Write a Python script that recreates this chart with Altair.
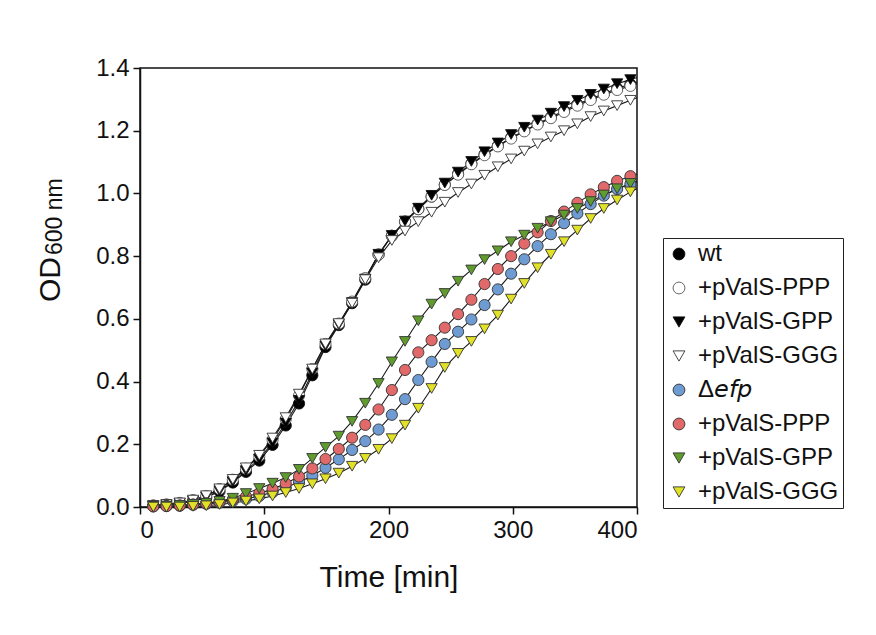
import altair as alt
import pandas as pd

# Sampling times (min)
times = [10.7, 21.3, 32.0, 42.7, 53.3, 64.0, 74.7, 85.3, 96.0, 106.7, 117.3, 128.0,
         138.7, 149.3, 160.0, 170.7, 181.3, 192.0, 202.7, 213.3, 224.0, 234.7, 245.3,
         256.0, 266.7, 277.3, 288.0, 298.7, 309.3, 320.0, 330.7, 341.3, 352.0, 362.7,
         373.3, 384.0, 394.7]

wt = [0.004, 0.007, 0.011, 0.018, 0.030, 0.050, 0.078, 0.112, 0.148, 0.198, 0.260, 0.330,
      0.420, 0.510, 0.580, 0.650, 0.725, 0.805, 0.865, 0.910, 0.950, 0.990, 1.028, 1.062,
      1.095, 1.125, 1.152, 1.178, 1.200, 1.222, 1.243, 1.264, 1.284, 1.302, 1.318, 1.335, 1.348]
wt_ppp = [0.005, 0.008, 0.013, 0.022, 0.035, 0.057, 0.087, 0.122, 0.162, 0.215, 0.280, 0.355,
          0.440, 0.520, 0.585, 0.655, 0.730, 0.805, 0.865, 0.910, 0.950, 0.990, 1.027, 1.060,
          1.093, 1.122, 1.150, 1.175, 1.198, 1.220, 1.240, 1.260, 1.280, 1.298, 1.315, 1.330, 1.343]
wt_gpp = [0.004, 0.007, 0.012, 0.019, 0.032, 0.052, 0.081, 0.116, 0.153, 0.205, 0.268, 0.340,
          0.428, 0.514, 0.582, 0.652, 0.727, 0.806, 0.866, 0.912, 0.953, 0.994, 1.033, 1.068,
          1.102, 1.133, 1.161, 1.188, 1.211, 1.234, 1.256, 1.277, 1.297, 1.316, 1.333, 1.350, 1.363]
wt_ggg = [0.005, 0.008, 0.013, 0.022, 0.036, 0.058, 0.088, 0.125, 0.165, 0.220, 0.285, 0.360,
          0.440, 0.520, 0.585, 0.650, 0.725, 0.795, 0.850, 0.880, 0.910, 0.940, 0.972, 1.003,
          1.030, 1.058, 1.085, 1.110, 1.135, 1.158, 1.180, 1.200, 1.222, 1.245, 1.263, 1.280, 1.297]
efp = [0.002, 0.003, 0.004, 0.007, 0.010, 0.014, 0.019, 0.026, 0.035, 0.047, 0.062, 0.080,
       0.100, 0.125, 0.152, 0.182, 0.210, 0.247, 0.294, 0.344, 0.405, 0.463, 0.520, 0.559,
       0.598, 0.644, 0.694, 0.744, 0.790, 0.832, 0.870, 0.905, 0.936, 0.966, 0.993, 1.014, 1.030]
efp_ppp = [0.002, 0.003, 0.005, 0.008, 0.012, 0.017, 0.024, 0.033, 0.044, 0.057, 0.075, 0.097,
           0.123, 0.153, 0.185, 0.221, 0.262, 0.311, 0.373, 0.437, 0.493, 0.532, 0.572, 0.615,
           0.661, 0.711, 0.759, 0.800, 0.840, 0.876, 0.912, 0.942, 0.970, 0.997, 1.020, 1.040, 1.055]
efp_gpp = [0.002, 0.003, 0.005, 0.008, 0.012, 0.018, 0.028, 0.043, 0.059, 0.076, 0.094, 0.120,
           0.155, 0.190, 0.226, 0.273, 0.331, 0.394, 0.463, 0.528, 0.594, 0.647, 0.681, 0.720,
           0.756, 0.789, 0.817, 0.846, 0.867, 0.889, 0.910, 0.931, 0.952, 0.974, 0.995, 1.015, 1.032]
efp_ggg = [0.000, 0.000, 0.000, 0.002, 0.004, 0.008, 0.013, 0.019, 0.026, 0.035, 0.046, 0.059,
           0.074, 0.090, 0.108, 0.130, 0.155, 0.184, 0.218, 0.261, 0.315, 0.378, 0.445, 0.490,
           0.528, 0.568, 0.612, 0.663, 0.713, 0.763, 0.806, 0.846, 0.883, 0.920, 0.952, 0.979, 1.005]

# Where each fitted line meets the right axis (t = 400)
line_end_t = 400
line_end = [1.355, 1.350, 1.370, 1.305, 1.036, 1.062, 1.040, 1.015]

labels = ["wt", "+pValS-PPP", "+pValS-GPP", "+pValS-GGG",
          "Δ𝘦𝘧𝘱", "+pValS-PPP\u200b", "+pValS-GPP\u200b", "+pValS-GGG\u200b"]
series_values = [wt, wt_ppp, wt_gpp, wt_ggg, efp, efp_ppp, efp_gpp, efp_ggg]
fills = ["#000000", "#ffffff", "#000000", "#ffffff", "#6e9bd2", "#e16969", "#5f9b2d", "#e1e128"]
strokes = ["#111111", "#555555", "#111111", "#333333", "#333333", "#333333", "#333333", "#333333"]
shapes = ["circle", "circle", "triangle-down", "triangle-down",
          "circle", "circle", "triangle-down", "triangle-down"]

pt_rows, line_rows = [], []
for i, (lab, vals) in enumerate(zip(labels, series_values)):
    for t, v in zip(times, vals):
        pt_rows.append({"series": lab, "t": t, "od": v, "z": i})
        line_rows.append({"series": lab, "t": t, "od": v})
    line_rows.append({"series": lab, "t": line_end_t, "od": line_end[i]})
pt_df = pd.DataFrame(pt_rows)
line_df = pd.DataFrame(line_rows)

FONT = "Liberation Sans"

x_enc = alt.X("t:Q", scale=alt.Scale(domain=[0, 400], nice=False, zero=False),
              axis=alt.Axis(values=[0, 100, 200, 300, 400], title="Time [min]",
                            titleFontSize=30, titleFontWeight="normal", titlePadding=20,
                            titleFont=FONT, titleColor="#111"))
y_enc = alt.Y("od:Q", scale=alt.Scale(domain=[0, 1.4], nice=False),
              axis=alt.Axis(values=[0, 0.2, 0.4, 0.6, 0.8, 1.0, 1.2, 1.4], format=".1f",
                            title=None))

leg = alt.Legend(title=None, orient="none", legendX=523, legendY=170,
                 labelFontSize=24, labelFont=FONT, labelColor="#111",
                 symbolSize=140, symbolStrokeWidth=0.9,
                 rowPadding=10, labelOffset=7, padding=4,
                 strokeColor="#222", labelLimit=300)

lines = alt.Chart(line_df).mark_line(color="#1a1a1a", strokeWidth=1.1).encode(
    x=x_enc, y=y_enc, detail="series:N", order="t:Q")

points = alt.Chart(pt_df).mark_point(filled=True, size=125, strokeWidth=0.9,
                                     opacity=1).encode(
    x=x_enc, y=y_enc,
    fill=alt.Fill("series:N", scale=alt.Scale(domain=labels, range=fills),
                  sort=labels, legend=leg),
    shape=alt.Shape("series:N", scale=alt.Scale(domain=labels, range=shapes),
                    sort=labels, legend=leg),
    stroke=alt.Stroke("series:N", scale=alt.Scale(domain=labels, range=strokes),
                      sort=labels, legend=leg),
    order=alt.Order("z:Q"))

title_od = alt.Chart(pd.DataFrame({"s": ["OD"]})).mark_text(
    angle=270, align="left", baseline="alphabetic", fontSize=30, font=FONT, color="#111"
).encode(text="s:N", x=alt.value(-80), y=alt.value(234))
title_sub = alt.Chart(pd.DataFrame({"s": ["600 nm"]})).mark_text(
    angle=270, align="left", baseline="alphabetic", fontSize=23, font=FONT, color="#111"
).encode(text="s:N", x=alt.value(-78), y=alt.value(187))

chart = alt.layer(lines, points, title_od, title_sub).properties(
    width=497, height=439,
    autosize=alt.AutoSizeParams(type="none"),
    padding={"left": 132, "top": 60, "right": 228, "bottom": 100},
    background="white",
).configure_view(stroke="#111", strokeWidth=1.5).configure_axis(
    domainColor="#111", domainWidth=1.5, tickColor="#111", tickWidth=1.5, tickSize=7,
    labelFontSize=24, labelFont=FONT, labelColor="#111", labelPadding=4, grid=False
)

chart.save("out.html", embed_options={"renderer": "svg", "actions": False})
